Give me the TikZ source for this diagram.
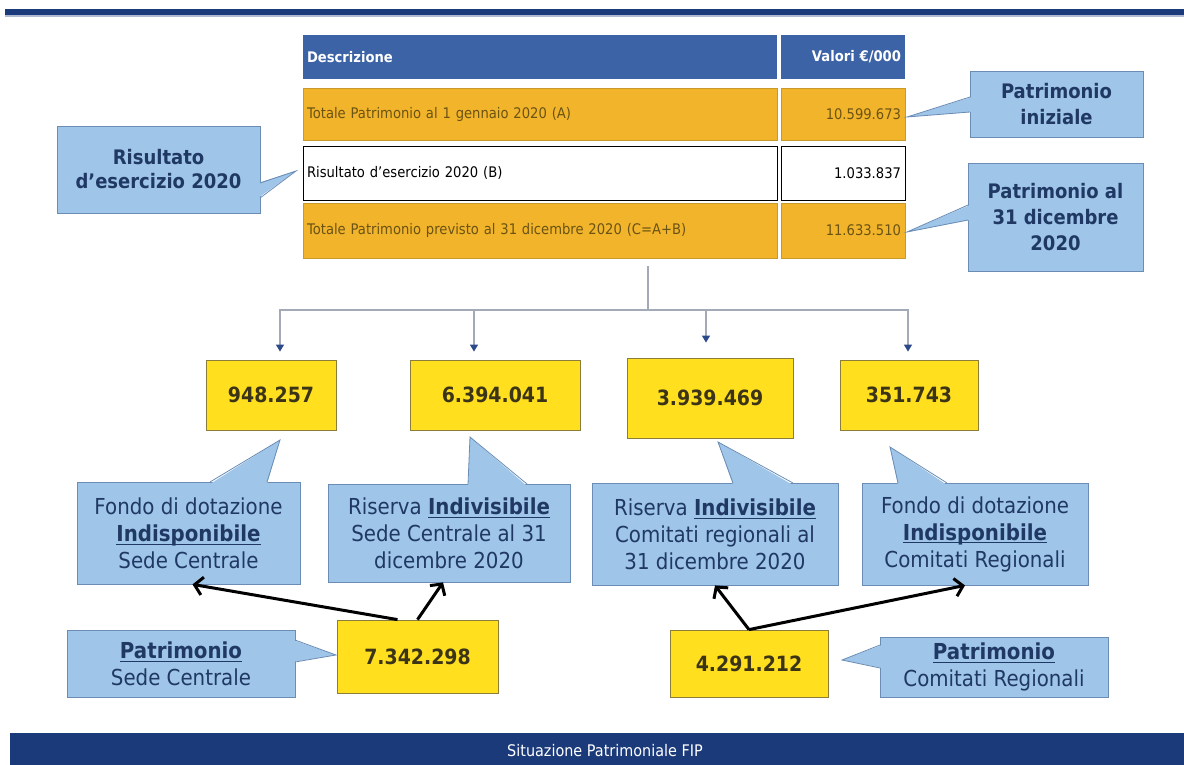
\documentclass[tikz,border=0pt]{standalone}
\usepackage{fontspec}
\setmainfont{DejaVu Sans}[FakeStretch=0.9]
\usetikzlibrary{arrows.meta}

\definecolor{navy}{HTML}{1B3A7A}
\definecolor{headblue}{HTML}{3C63A6}
\definecolor{orangefill}{HTML}{F1B42B}
\definecolor{orangeline}{HTML}{C89A2A}
\definecolor{orangetext}{HTML}{6B5314}
\definecolor{callfill}{HTML}{9FC5E8}
\definecolor{callline}{HTML}{6A8CB5}
\definecolor{calltext}{HTML}{1F3864}
\definecolor{yellowfill}{HTML}{FFDF1E}
\definecolor{yellowline}{HTML}{8A7E3A}
\definecolor{yellowtext}{HTML}{3B3416}
\definecolor{treeline}{HTML}{A4A9B8}
\definecolor{arrowblue}{HTML}{2C4A8A}

\newcommand{\keyword}[1]{\underline{\raisebox{0pt}[\height][0pt]{\textbf{#1}}}}

\begin{document}
\begin{tikzpicture}[x=0.5pt,y=-0.5pt]

\tikzset{head/.style = {fill=headblue, text=white, minimum height=22pt, inner xsep=2pt, font=\fontsize{7.3}{9}\selectfont\bfseries}}
\tikzset{row/.style = {draw=orangeline, fill=orangefill, text=orangetext, inner xsep=2pt, font=\fontsize{7.3}{9}\selectfont}}
\tikzset{rowb/.style = {draw=black, fill=white, text=black, inner xsep=2pt, font=\fontsize{7.3}{9}\selectfont}}
\tikzset{desc/.style = {text width=233pt, align=left}}
\tikzset{val/.style = {text width=58pt, align=right}}
\tikzset{callout/.style = {draw=callline, fill=callfill, text=calltext, align=center, inner sep=1pt, font=\fontsize{11}{13.5}\selectfont}}
\tikzset{boldcallout/.style = {callout, font=\fontsize{10}{13}\selectfont\bfseries}}
\tikzset{amount/.style = {draw=yellowline, fill=yellowfill, text=yellowtext, font=\fontsize{10.5}{12}\selectfont\bfseries}}
\tikzset{tree/.style = {draw=treeline, line width=0.6pt, -{Triangle[length=3.5pt,width=4pt,color=arrowblue]}}}
\tikzset{link/.style = {draw=black, line width=1.5pt, -{Straight Barb[length=4pt,width=9pt]}}}

\useasboundingbox (0,0) rectangle (1184,765);

%bars
\fill[navy] (5,9) rectangle (1184,15);
\fill[navy!35] (5,15) rectangle (1184,17);
\fill[navy] (10,733) rectangle (1184,765);
\node[text=white, font=\fontsize{8}{9}\selectfont] (footer) at (605,751) {Situazione Patrimoniale FIP};

%table
\node[head, desc] (hdesc) at (540,57) {Descrizione};
\node[head, val] (hval) at (843,57) {Valori €/000};
\node[row, desc, minimum height=26pt] (adesc) at (540,114) {Totale Patrimonio al 1 gennaio 2020 (A)};
\node[row, val, minimum height=26pt] (aval) at (843,114) {10.599.673};
\node[rowb, desc, minimum height=27pt] (bdesc) at (540,173) {Risultato d’esercizio 2020 (B)};
\node[rowb, val, minimum height=27pt] (bval) at (843,173) {1.033.837};
\node[row, desc, minimum height=27.5pt] (cdesc) at (540,230.5) {Totale Patrimonio previsto al 31 dicembre 2020 (C=A+B)};
\node[row, val, minimum height=27.5pt] (cval) at (843,230.5) {11.633.510};

%callouts next to the table
\node[boldcallout, minimum width=101.5pt, minimum height=43.5pt, font=\fontsize{10}{12}\selectfont\bfseries] (cris) at (158.5,169.5) {Risultato\\d’esercizio 2020};
\fill[callfill] (258,183) -- (296,171) -- (258,198) -- cycle;
\draw[callline] (260,183) -- (296,171) -- (260,198);
\node[boldcallout, minimum width=86.5pt, minimum height=33pt] (cini) at (1056.5,104) {Patrimonio\\iniziale};
\fill[callfill] (972,97) -- (907,117) -- (972,112) -- cycle;
\draw[callline] (970,97) -- (907,117) -- (970,112);
\node[boldcallout, minimum width=87.5pt, minimum height=54pt] (cdic) at (1055.5,217) {Patrimonio al\\31 dicembre\\2020};
\fill[callfill] (970,205) -- (907,232) -- (970,220) -- cycle;
\draw[callline] (968,205) -- (907,232) -- (968,220);

%amounts
\node[amount, minimum width=65pt, minimum height=35pt] (fsc) at (271,395) {948.257};
\node[amount, minimum width=85pt, minimum height=35pt] (rsc) at (495,395) {6.394.041};
\node[amount, minimum width=83pt, minimum height=40pt] (rcr) at (710,398) {3.939.469};
\node[amount, minimum width=69pt, minimum height=35pt] (fcr) at (909,395) {351.743};
\node[amount, minimum width=80.5pt, minimum height=36.5pt] (psc) at (417.5,656.5) {7.342.298};
\node[amount, minimum width=79pt, minimum height=33.5pt] (pcr) at (749,663.5) {4.291.212};

%tree
\coordinate (top) at (648,266);
\coordinate (split) at (648,310);
\draw[treeline, line width=0.6pt] (top) -- (split);
\draw[tree, shorten >=4pt] (split) -| ([xshift=4.5pt]fsc.north);
\draw[tree, shorten >=4pt] (split) -| ([xshift=-10.5pt]rsc.north);
\draw[tree, shorten >=7.5pt] (split) -| ([xshift=-2pt]rcr.north);
\draw[tree, shorten >=4pt] (split) -| ([xshift=-0.5pt]fcr.north);

%callouts under the amounts
\node[callout, minimum width=111.5pt, minimum height=51pt] (cfsc) at (188.5,533) {Fondo di dotazione\\\keyword{Indisponibile}\\Sede Centrale};
\fill[callfill] (210,484) -- (280,440) -- (267,484) -- cycle;
\draw[callline] (210,482) -- (280,440) -- (267,482);
\node[callout, minimum width=121pt, minimum height=49pt] (crsc) at (449,533) {Riserva \keyword{Indivisibile}\\Sede Centrale al 31\\dicembre 2020};
\fill[callfill] (468,486) -- (470,437) -- (527,486) -- cycle;
\draw[callline] (468,484) -- (470,437) -- (527,484);
\node[callout, minimum width=123pt, minimum height=51pt] (crcr) at (715,534) {Riserva \keyword{Indivisibile}\\Comitati regionali al\\31 dicembre 2020};
\fill[callfill] (733,485) -- (718,442) -- (793,485) -- cycle;
\draw[callline] (733,483) -- (718,442) -- (793,483);
\node[callout, minimum width=113pt, minimum height=51pt] (cfcr) at (975,534) {Fondo di dotazione\\\keyword{Indisponibile}\\Comitati Regionali};
\fill[callfill] (898,485) -- (890,447) -- (947,485) -- cycle;
\draw[callline] (898,483) -- (890,447) -- (947,483);

%patrimonio callouts
\node[callout, minimum width=114pt, minimum height=33.5pt] (cpsc) at (181,663.5) {\keyword{Patrimonio}\\Sede Centrale};
\fill[callfill] (293,640) -- (336,655) -- (293,662) -- cycle;
\draw[callline] (295,640) -- (336,655) -- (295,662);
\node[callout, minimum width=114pt, minimum height=30pt] (cpcr) at (994,667) {\keyword{Patrimonio}\\Comitati Regionali};
\fill[callfill] (882,645) -- (842,660) -- (882,668) -- cycle;
\draw[callline] (880,645) -- (842,660) -- (880,668);

%links
\draw[link] ([xshift=-10pt]psc.north) -- ([xshift=2pt]cfsc.south);
\draw[link] (psc.north) -- ([xshift=-3pt]crsc.south);
\draw[link] (pcr.north) -- (crcr.south);
\draw[link] (pcr.north) -- ([xshift=-5pt]cfcr.south);

\end{tikzpicture}
\end{document}
